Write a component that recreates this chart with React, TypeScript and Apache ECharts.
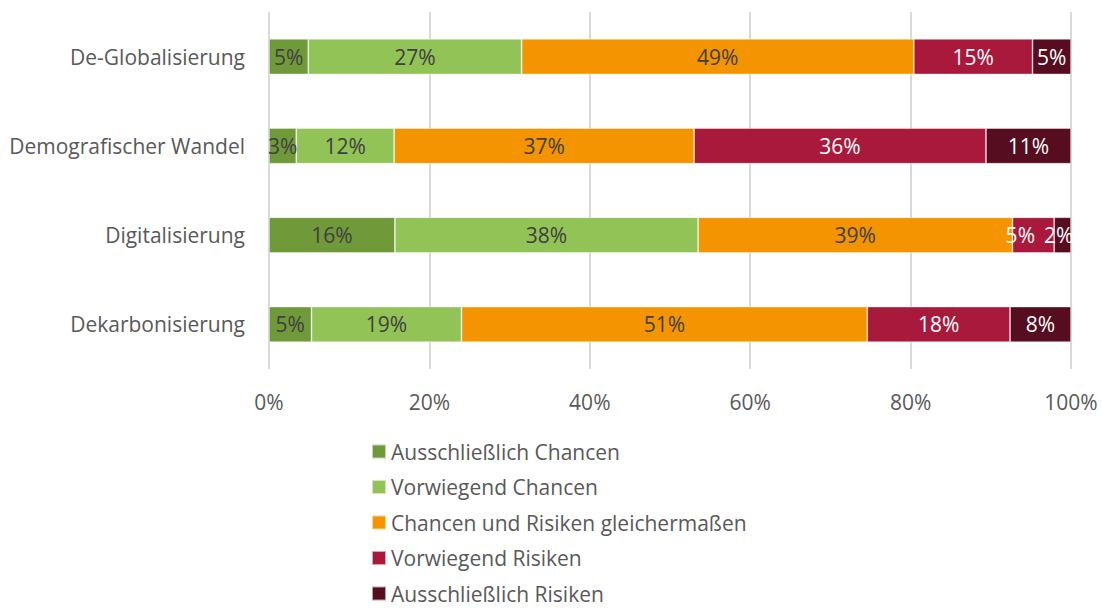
import React, { useEffect, useRef } from "react";
import * as echarts from "echarts";

const categories = ["De-Globalisierung", "Demografischer Wandel", "Digitalisierung", "Dekarbonisierung"];
const seriesNames = [
  "Ausschließlich Chancen",
  "Vorwiegend Chancen",
  "Chancen und Risiken gleichermaßen",
  "Vorwiegend Risiken",
  "Ausschließlich Risiken",
];
const ausschliesslichChancen = [4.9, 3.4, 15.7, 5.3];
const vorwiegendChancen = [26.6, 12.2, 37.8, 18.7];
const gleichermassen = [48.9, 37.4, 39.2, 50.6];
const vorwiegendRisiken = [14.8, 36.4, 5.2, 17.8];
const ausschliesslichRisiken = [4.8, 10.6, 2.1, 7.6];
const xTicks = [0, 20, 40, 60, 80, 100];

const colors = ["#70993a", "#92c356", "#f39400", "#a8193b", "#560d1f"];
const labelColors = ["#404040", "#404040", "#404040", "#ffffff", "#ffffff"];
const FONT = "'Open Sans', sans-serif";
const FS = 21;

export default function App() {
  const ref = useRef<HTMLDivElement>(null);
  useEffect(() => {
    document.body.style.margin = "0";
    const chart = echarts.init(ref.current!, null, { renderer: "svg" });
    const allData = [ausschliesslichChancen, vorwiegendChancen, gleichermassen, vorwiegendRisiken, ausschliesslichRisiken];
    chart.setOption({
      animation: false,
      textStyle: { fontFamily: FONT },
      grid: { left: 269, right: 31, top: 12, height: 357 },
      legend: seriesNames.map((name, i) => ({
        orient: "vertical",
        left: 371,
        top: 441 + 35.5 * i,
        padding: 0,
        itemWidth: 14,
        itemHeight: 14,
        icon: "rect",
        textStyle: { fontSize: FS, color: "#595959", fontFamily: FONT },
        data: [name],
      })),
      xAxis: {
        type: "value",
        min: xTicks[0],
        max: xTicks[xTicks.length - 1],
        interval: 20,
        axisLine: { show: false },
        axisTick: { show: false },
        axisLabel: { formatter: "{value}%", fontSize: FS, color: "#595959", margin: 22, fontFamily: FONT },
        splitLine: { lineStyle: { color: "#d9d9d9", width: 2 } },
      },
      yAxis: {
        type: "category",
        data: categories,
        inverse: true,
        axisLine: { show: false },
        axisTick: { show: false },
        axisLabel: { fontSize: FS, color: "#595959", margin: 24, fontFamily: FONT },
      },
      series: seriesNames.map((name, i) => ({
        name,
        type: "bar",
        stack: "total",
        barWidth: "40%",
        data: allData[i].map((v, j) => {
          if (j === 2 && i === 3) return { value: v, label: { offset: [-13, 0] } };
          if (j === 2 && i === 4) return { value: v, label: { offset: [-4, 0] } };
          return v;
        }),
        itemStyle: { color: colors[i], borderColor: "rgba(255,255,255,0.6)", borderWidth: 0.75 },
        label: {
          show: true,
          position: "inside",
          fontSize: FS,
          color: labelColors[i],
          fontFamily: FONT,
          formatter: (p: any) => Math.round(p.value) + "%",
        },
      })),
    });
    return () => chart.dispose();
  }, []);
  return <div ref={ref} style={{ width: 1102, height: 609 }} />;
}
